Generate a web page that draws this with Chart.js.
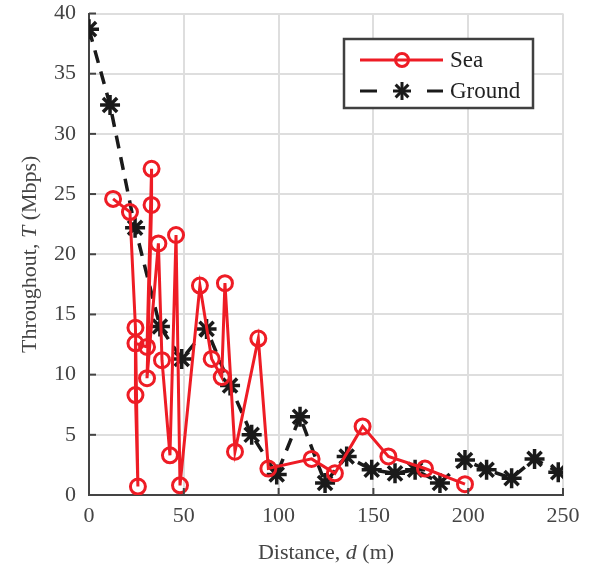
<!DOCTYPE html>
<html>
<head>
<meta charset="utf-8">
<script src="https://cdn.jsdelivr.net/npm/chart.js@4"></script>
<style>
  html, body { margin: 0; padding: 0; background: #fff; }
  #wrap { width: 589px; height: 567px; }
</style>
</head>
<body>
<div id="wrap"><canvas id="chart"></canvas></div>
<script>
// Sea measurements, in the order they were taken (distance m, throughput Mbps)
const seaDist = [12.7, 21.6, 24.5, 25.8, 24.5, 24.5, 30.6, 33.0, 33.0, 30.6, 36.6, 38.5, 42.7, 45.9, 48.0,
  58.5, 64.7, 70.0, 71.7, 77.0, 89.3, 94.6, 117.4, 129.7, 144.3, 157.9, 177.2, 198.3];
const seaThr = [24.6, 23.5, 13.9, 0.7, 8.3, 12.6, 12.3, 27.1, 24.1, 9.7, 20.9, 11.2, 3.3, 21.6, 0.8,
  17.4, 11.3, 9.8, 17.6, 3.6, 13.0, 2.2, 3.0, 1.8, 5.7, 3.2, 2.2, 0.9];

// Ground measurements
const groundDist = [0, 11.1, 24.3, 37.4, 48.9, 62.0, 74.4, 85.8, 99.0, 111.3, 124.5, 135.9, 149.1,
  161.4, 172.0, 185.1, 198.3, 209.7, 222.9, 235.0, 247.5];
const groundThr = [38.7, 32.4, 22.2, 14.0, 11.3, 13.8, 9.1, 5.0, 1.7, 6.5, 1.0, 3.2, 2.1,
  1.8, 2.1, 1.0, 2.9, 2.1, 1.4, 3.0, 1.9];

const xTicks = [0, 50, 100, 150, 200, 250];
const yTicks = [0, 5, 10, 15, 20, 25, 30, 35, 40];

const RED = "#ee1c25";
const BLACK = "#1a1a1a";
const serif = "'Liberation Serif', 'DejaVu Serif', serif";

const toPts = (xs, ys) => xs.map((x, i) => ({ x: x, y: ys[i] }));

// draws inward ticks, axis titles with italic symbols and the legend box
const extras = {
  id: "extras",
  afterDraw(chart) {
    const c = chart.ctx;
    const a = chart.chartArea;
    const xs = chart.scales.x, ys = chart.scales.y;
    c.save();
    c.strokeStyle = "#444";
    c.lineWidth = 2;
    xTicks.forEach(v => {
      const px = xs.getPixelForValue(v);
      c.beginPath(); c.moveTo(px, a.bottom); c.lineTo(px, a.bottom - 7); c.stroke();
    });
    yTicks.forEach(v => {
      const py = ys.getPixelForValue(v);
      c.beginPath(); c.moveTo(a.left, py); c.lineTo(a.left + 7, py); c.stroke();
    });

    // axis titles
    const drawParts = (parts, cx, cy) => {
      let w = 0;
      parts.forEach(p => { c.font = p[1]; w += c.measureText(p[0]).width; });
      let x = cx - w / 2;
      parts.forEach(p => {
        c.font = p[1];
        c.fillText(p[0], x, cy);
        x += c.measureText(p[0]).width;
      });
    };
    c.fillStyle = "#444";
    c.textBaseline = "alphabetic";
    c.textAlign = "left";
    const up = "22px " + serif, it = "italic 22px " + serif;
    drawParts([["Distance, ", up], ["d", it], [" (m)", up]], (a.left + a.right) / 2, 559);
    c.save();
    c.translate(36, (a.top + a.bottom) / 2);
    c.rotate(-Math.PI / 2);
    drawParts([["Throughout, ", up], ["T", it], [" (Mbps)", up]], 0, 0);
    c.restore();

    // legend
    c.fillStyle = "#fff";
    c.fillRect(344, 39, 189, 69);
    c.strokeStyle = "#404040";
    c.lineWidth = 2.5;
    c.strokeRect(344, 39, 189, 69);
    c.strokeStyle = RED;
    c.lineWidth = 3;
    c.beginPath(); c.moveTo(360, 60); c.lineTo(443, 60); c.stroke();
    c.beginPath(); c.arc(402, 60, 6.5, 0, Math.PI * 2); c.stroke();
    c.strokeStyle = BLACK;
    c.lineWidth = 3;
    c.beginPath(); c.moveTo(360, 91); c.lineTo(377, 91); c.stroke();
    c.beginPath(); c.moveTo(427, 91); c.lineTo(443, 91); c.stroke();
    for (let k = 0; k < 4; k++) {
      const ang = k * Math.PI / 4;
      const r = 9;
      c.beginPath();
      c.moveTo(402 - r * Math.cos(ang), 91 - r * Math.sin(ang));
      c.lineTo(402 + r * Math.cos(ang), 91 + r * Math.sin(ang));
      c.stroke();
    }
    c.fillStyle = "#222";
    c.font = "23px " + serif;
    c.textBaseline = "middle";
    c.fillText("Sea", 450, 61);
    c.fillText("Ground", 450, 92);
    c.restore();
  }
};

const ctx = document.getElementById("chart").getContext("2d");
const chart = new Chart(ctx, {
  type: "line",
  data: {
    datasets: [{
      label: "Sea",
      data: toPts(seaDist, seaThr),
      borderColor: RED,
      borderWidth: 3,
      pointStyle: "circle",
      pointRadius: 7.5,
      pointBorderWidth: 3,
      pointBorderColor: RED,
      pointBackgroundColor: "rgba(0,0,0,0)",
      tension: 0
    }, {
      label: "Ground",
      data: toPts(groundDist, groundThr),
      borderColor: BLACK,
      borderWidth: 3.5,
      borderDash: [13, 9],
      pointStyle: "star",
      pointRadius: 10,
      pointBorderWidth: 3.5,
      pointBorderColor: BLACK,
      pointBackgroundColor: BLACK,
      tension: 0
    }]
  },
  options: {
    responsive: true,
    maintainAspectRatio: false,
    animation: false,
    layout: { padding: { top: 13, right: 26, left: 0, bottom: 0 } },
    plugins: { legend: { display: false }, tooltip: { enabled: false } },
    scales: {
      x: {
        type: "linear",
        min: 0, max: 250,
        afterFit(s) { s.height = 72; s.paddingLeft = 0; s.paddingRight = 0; },
        ticks: { stepSize: 50, color: "#444", padding: 8, font: { family: serif, size: 22 } },
        grid: { color: "#dedede", lineWidth: 2, drawTicks: false },
        border: { color: "#444", width: 2 }
      },
      y: {
        min: 0, max: 40,
        afterFit(s) { s.width = 89; s.paddingTop = 0; s.paddingBottom = 0; },
        ticks: { stepSize: 5, color: "#444", padding: 13, font: { family: serif, size: 22 } },
        grid: { color: "#dedede", lineWidth: 2, drawTicks: false },
        border: { color: "#444", width: 2 }
      }
    }
  },
  plugins: [extras]
});
</script>
</body>
</html>
